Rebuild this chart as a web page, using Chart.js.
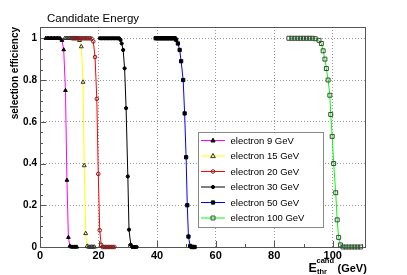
<!DOCTYPE html>
<html>
<head>
<meta charset="utf-8">
<script src="https://cdn.jsdelivr.net/npm/chart.js@4/dist/chart.umd.min.js"></script>
<style>
  body { margin: 0; background: #fff; }
  canvas { display: block; }
</style>
</head>
<body>
<canvas id="effChart" width="407" height="275"></canvas>
<script>
// efficiency vs threshold
const e9x = [2, 2.5, 3, 3.5, 4, 4.5, 5, 5.5, 6, 6.5, 7, 7.5, 8.1, 8.7, 9.2, 9.7, 10.2, 10.7, 11.2, 11.7, 12.2, 12.6];
const e9y = [1, 1, 1, 1, 1, 1, 1, 1, 1, 1, 0.998, 0.99, 0.945, 0.75, 0.32, 0.046, 0.005, 0, 0, 0, 0, 0];

const e15x = [8.5, 9, 9.5, 10, 10.5, 11, 11.5, 12, 12.5, 13, 13.5, 14.1, 14.7, 15.1, 15.6, 16.1, 16.6, 17.1, 17.6, 18.1, 18.6];
const e15y = [1, 1, 1, 1, 1, 1, 1, 1, 1, 1, 0.99, 0.96, 0.79, 0.39, 0.065, 0.004, 0, 0, 0, 0, 0];

const e20x = [11, 11.5, 12, 12.5, 13, 13.5, 14, 14.5, 15, 15.5, 16, 16.5, 17, 17.6, 18.2, 18.8, 19.4, 19.9, 20.4, 20.9, 21.4, 21.9, 22.4, 22.9, 23.4, 23.9, 24.4, 24.9, 25.4];
const e20y = [1, 1, 1, 1, 1, 1, 1, 1, 1, 1, 1, 1, 1, 0.998, 0.985, 0.91, 0.71, 0.35, 0.08, 0.01, 0, 0, 0, 0, 0, 0, 0, 0, 0];

const e30x = [20.5, 21, 21.5, 22, 22.5, 23, 23.5, 24, 24.5, 25, 25.5, 26, 26.5, 27, 27.5, 27.9, 28.4, 28.9, 29.4, 30.0, 30.4, 31.0, 31.5, 32.0, 32.5, 33.0];
const e30y = [1, 1, 1, 1, 1, 1, 1, 1, 1, 1, 1, 1, 1, 1, 0.992, 0.975, 0.944, 0.856, 0.665, 0.338, 0.083, 0.011, 0, 0, 0, 0];

const e50x = [39.5, 40, 40.5, 41, 41.5, 42, 42.5, 43, 43.5, 44, 44.5, 45, 45.5, 46, 46.5, 47.1, 47.7, 48.2, 48.9, 49.4, 49.9, 50.3, 50.7, 51.3, 51.8, 52.3, 52.8];
const e50y = [1, 1, 1, 1, 1, 1, 1, 1, 1, 1, 1, 1, 1, 1, 0.993, 0.975, 0.944, 0.89, 0.80, 0.64, 0.43, 0.20, 0.05, 0.005, 0, 0, 0];

const e100x = [85, 86, 87, 88, 89, 90, 91, 92, 93, 94, 95.3, 96.1, 96.7, 97.3, 97.8, 98.4, 99.0, 99.3, 99.8, 100.3, 101.0, 101.5, 102.0, 102.6, 103.5, 104.5, 105.5, 106.5, 107.5, 108.5, 109.5];
const e100y = [1, 1, 1, 1, 1, 1, 1, 1, 1, 0.998, 0.99, 0.975, 0.94, 0.90, 0.855, 0.80, 0.727, 0.635, 0.53, 0.40, 0.26, 0.13, 0.046, 0.01, 0, 0, 0, 0, 0, 0, 0];

const seriesNames = ['electron 9 GeV', 'electron 15 GeV', 'electron 20 GeV', 'electron 30 GeV', 'electron 50 GeV', 'electron 100 GeV'];

const xTicks = [0, 20, 40, 60, 80, 100];
const xMinor = [10, 30, 50, 70, 90, 110];
const yTicks = [0, 0.2, 0.4, 0.6, 0.8, 1];
const yMinor = [0.05, 0.1, 0.15, 0.25, 0.3, 0.35, 0.45, 0.5, 0.55, 0.65, 0.7, 0.75, 0.85, 0.9, 0.95];

const FONT = '"Liberation Sans", Arial, Helvetica, sans-serif';

function pts(xs, ys) {
    return xs.map((x, i) => ({ x: x, y: ys[i] }));
}

function makeSet(i, xs, ys, line, style, fill, edge, radius) {
    return {
        label: seriesNames[i],
        data: pts(xs, ys),
        showLine: true,
        borderColor: line,
        borderWidth: 1,
        pointStyle: style,
        pointRadius: radius,
        pointBackgroundColor: fill,
        pointBorderColor: edge,
        pointBorderWidth: 1,
        order: -i,
        clip: false
    };
}

// own marker drawing, used for the legend
function marker(ctx, style, x, y, r, fill, edge) {
    ctx.beginPath();
    if (style === 'triangle') {
        ctx.moveTo(x, y - r * 1.1);
        ctx.lineTo(x + r, y + r * 0.7);
        ctx.lineTo(x - r, y + r * 0.7);
        ctx.closePath();
    } else if (style === 'rect') {
        const s = r * Math.SQRT1_2;
        ctx.rect(x - s, y - s, 2 * s, 2 * s);
    } else {
        ctx.arc(x, y, r, 0, Math.PI * 2);
    }
    ctx.fillStyle = fill;
    ctx.fill();
    ctx.strokeStyle = edge;
    ctx.lineWidth = 1;
    ctx.stroke();
}

const rootLook = {
    id: 'rootLook',
    beforeDatasetsDraw(chart) {
        const { ctx, chartArea: a, scales } = chart;
        const x = scales.x, y = scales.y;
        ctx.save();
        ctx.strokeStyle = '#555';
        ctx.lineWidth = 1;
        ctx.strokeRect(a.left + 0.5, a.top + 0.5, a.right - a.left, a.bottom - a.top);
        ctx.beginPath();
        yTicks.forEach(v => {
            const p = Math.round(y.getPixelForValue(v)) + 0.5;
            ctx.moveTo(a.left, p); ctx.lineTo(a.left + 6, p);
        });
        yMinor.forEach(v => {
            const p = Math.round(y.getPixelForValue(v)) + 0.5;
            ctx.moveTo(a.left, p); ctx.lineTo(a.left + 3, p);
        });
        xTicks.forEach(v => {
            const p = Math.round(x.getPixelForValue(v)) + 0.5;
            ctx.moveTo(p, a.bottom); ctx.lineTo(p, a.bottom - 6);
        });
        xMinor.forEach(v => {
            const p = Math.round(x.getPixelForValue(v)) + 0.5;
            ctx.moveTo(p, a.bottom); ctx.lineTo(p, a.bottom - 3);
        });
        ctx.stroke();
        ctx.restore();
    },
    afterDraw(chart) {
        const ctx = chart.ctx;
        ctx.save();
        ctx.fillStyle = '#000';
        ctx.textBaseline = 'alphabetic';
        ctx.textAlign = 'left';

        // title
        ctx.font = '11.5px ' + FONT;
        ctx.fillText('Candidate Energy', 47, 22);

        // x axis title E_thr^cand (GeV)
        ctx.font = 'bold 12.5px ' + FONT;
        ctx.fillText('E', 308.5, 271.5);
        ctx.font = 'bold 7.5px ' + FONT;
        ctx.fillText('cand', 316.5, 263);
        ctx.fillText('thr', 317, 274);
        ctx.font = 'bold 11px ' + FONT;
        ctx.fillText('(GeV)', 337.5, 271.5);

        // legend box
        const bx = 198.5, by = 132.5, bw = 125, bh = 95;
        ctx.fillStyle = '#fff';
        ctx.fillRect(bx, by, bw, bh);
        ctx.strokeStyle = '#888';
        ctx.lineWidth = 1;
        ctx.strokeRect(bx, by, bw, bh);
        ctx.font = '9.5px ' + FONT;
        ctx.textBaseline = 'middle';
        chart.data.datasets.forEach((ds, i) => {
            const ry = 140.5 + i * 15.5;
            ctx.strokeStyle = ds.borderColor;
            ctx.beginPath();
            ctx.moveTo(201, ry); ctx.lineTo(225, ry);
            ctx.stroke();
            marker(ctx, ds.pointStyle, 213, ry, ds.pointRadius, ds.pointBackgroundColor, ds.pointBorderColor);
            ctx.fillStyle = '#000';
            ctx.fillText(ds.label, 230.5, ry + 0.5);
        });
        ctx.restore();
    }
};

new Chart(document.getElementById('effChart'), {
    type: 'scatter',
    data: {
        datasets: [
            makeSet(0, e9x, e9y, '#ff00ff', 'triangle', '#000', '#000', 2.1),
            makeSet(1, e15x, e15y, '#ffff00', 'triangle', 'rgba(0,0,0,0)', '#333', 2.3),
            makeSet(2, e20x, e20y, '#ff0000', 'circle', 'rgba(0,0,0,0)', '#7a1f1f', 1.8),
            makeSet(3, e30x, e30y, '#000000', 'circle', '#000', '#000', 1.6),
            makeSet(4, e50x, e50y, '#0000ff', 'rect', '#000', '#000', 2.3),
            makeSet(5, e100x, e100y, '#00ff00', 'rect', 'rgba(0,0,0,0)', '#3a4a3a', 2.8)
        ]
    },
    options: {
        responsive: false,
        animation: false,
        events: [],
        layout: { padding: { left: 0, right: 42, top: 27, bottom: 0 } },
        plugins: {
            legend: { display: false },
            tooltip: { enabled: false },
            title: { display: false }
        },
        scales: {
            x: {
                type: 'linear',
                min: 0,
                max: 111,
                afterFit: s => { s.height = 28; },
                afterBuildTicks: s => { s.ticks = xTicks.map(v => ({ value: v })); },
                grid: { color: '#999', drawTicks: false, lineWidth: 1 },
                border: { display: false, dash: [1, 2] },
                ticks: {
                    padding: 2,
                    color: '#000',
                    maxRotation: 0,
                    callback: v => String(v),
                    font: { family: FONT, size: 11, weight: 'bold' }
                }
            },
            y: {
                type: 'linear',
                min: 0,
                max: 1.054,
                afterFit: s => { s.width = 40; },
                afterBuildTicks: s => { s.ticks = yTicks.map(v => ({ value: v })); },
                grid: { color: '#999', drawTicks: false, lineWidth: 1 },
                border: { display: false, dash: [1, 2] },
                ticks: {
                    padding: 3,
                    color: '#000',
                    callback: v => String(v),
                    font: { family: FONT, size: 10, weight: 'bold' }
                },
                title: {
                    display: true,
                    text: 'selection efficiency',
                    align: 'end',
                    color: '#000',
                    padding: { top: 9, bottom: 0 },
                    font: { family: FONT, size: 10, weight: 'bold' }
                }
            }
        }
    },
    plugins: [rootLook]
});
</script>
</body>
</html>
